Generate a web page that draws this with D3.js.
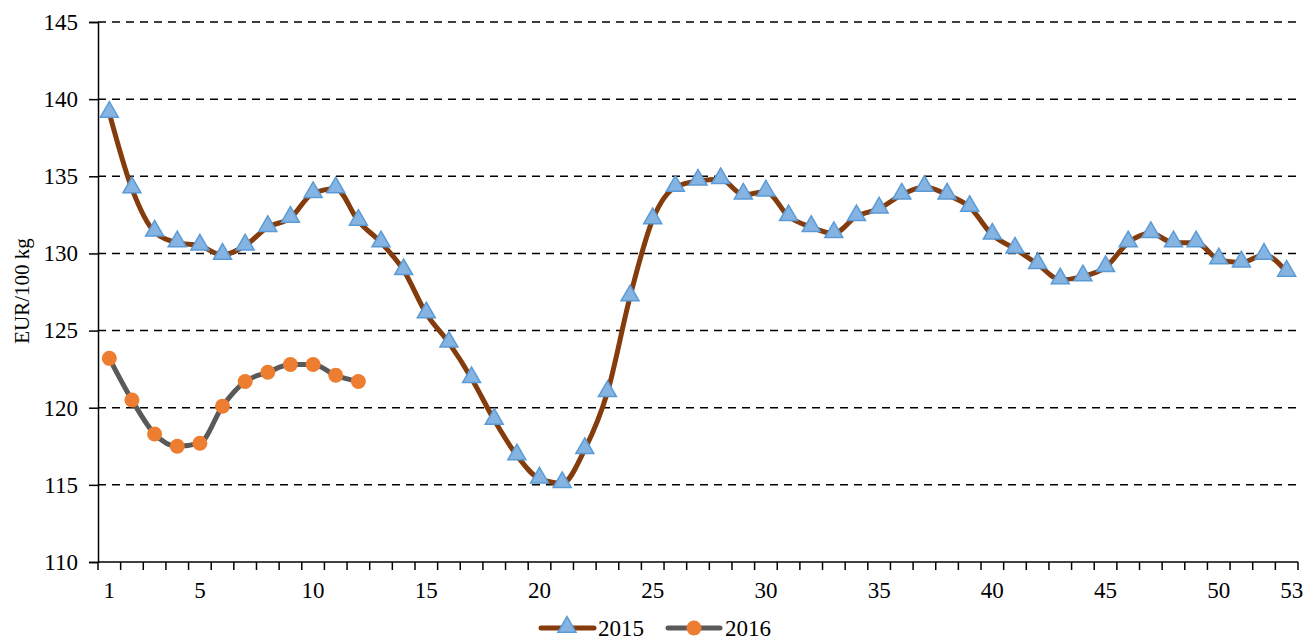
<!DOCTYPE html>
<html>
<head>
<meta charset="utf-8">
<script src="https://cdn.jsdelivr.net/npm/d3@7"></script>
<style>
  body { margin: 0; background: #fff; }
</style>
</head>
<body>
<svg id="chart" width="1309" height="641"></svg>
<script>
const weeks = d3.range(1, 54);
const xLabels = [1, 5, 10, 15, 20, 25, 30, 35, 40, 45, 50, 53];
const yTicks = [110, 115, 120, 125, 130, 135, 140, 145];
const prices2015 = [139.1, 134.2, 131.4, 130.7, 130.5, 129.9, 130.5, 131.7, 132.3, 133.9,
    134.2, 132.1, 130.7, 128.9, 126.1, 124.2, 121.9, 119.2, 116.9, 115.4,
    115.1, 117.3, 121.0, 127.2, 132.2, 134.3, 134.7, 134.8, 133.8, 134.0,
    132.4, 131.7, 131.3, 132.4, 132.9, 133.8, 134.3, 133.8, 133.0, 131.2,
    130.3, 129.3, 128.3, 128.5, 129.1, 130.7, 131.3, 130.7, 130.7, 129.6,
    129.4, 129.9, 128.8];
const prices2016 = [123.2, 120.5, 118.3, 117.5, 117.7, 120.1, 121.7, 122.3, 122.8, 122.8,
    122.1, 121.7];

const FONT = "'Liberation Serif', 'Times New Roman', serif";
const svg = d3.select("#chart");
const margin = { left: 98, right: 11, top: 22, bottom: 79 };
const width = 1309 - margin.left - margin.right;
const height = 641 - margin.top - margin.bottom;

const x = d3.scaleBand().domain(weeks).range([0, width]);
const y = d3.scaleLinear().domain([110, 145]).range([height, 0]);
const cx = w => x(w) + x.bandwidth() / 2;

const g = svg.append("g").attr("transform", `translate(${margin.left},${margin.top})`);

// dashed gridlines
g.selectAll(".grid")
    .data(yTicks.filter(d => d > 110))
    .join("line")
    .attr("class", "grid")
    .attr("x1", 0).attr("x2", width)
    .attr("y1", d => y(d)).attr("y2", d => y(d))
    .attr("stroke", "#000")
    .attr("stroke-width", 1.5)
    .attr("stroke-dasharray", "8,6");

// y axis
const yAxis = g.append("g")
    .call(d3.axisLeft(y).tickValues(yTicks).tickSize(9).tickPadding(11));
yAxis.select(".domain").attr("stroke-width", 1.5);
yAxis.selectAll(".tick line").attr("stroke-width", 1.5);
yAxis.selectAll("text")
    .attr("font-family", FONT)
    .attr("font-size", 23)
    .attr("fill", "#000");

// x axis: ticks between categories, labels at selected weeks
const xg = g.append("g").attr("transform", `translate(0,${height})`);
xg.append("line").attr("x1", 0).attr("x2", width).attr("stroke", "#000").attr("stroke-width", 1.5);
xg.selectAll(".xtick")
    .data(d3.range(0, 54))
    .join("line")
    .attr("class", "xtick")
    .attr("x1", d => d * x.step()).attr("x2", d => d * x.step())
    .attr("y1", 0).attr("y2", 8)
    .attr("stroke", "#000").attr("stroke-width", 1.5);
xg.selectAll(".xlabel")
    .data(xLabels)
    .join("text")
    .attr("class", "xlabel")
    .attr("x", d => d === 53 ? cx(d) + 5 : cx(d))
    .attr("y", 36)
    .attr("text-anchor", "middle")
    .attr("font-family", FONT)
    .attr("font-size", 23)
    .text(d => d);

// y axis title
svg.append("text")
    .attr("transform", "translate(29,291) rotate(-90)")
    .attr("text-anchor", "middle")
    .attr("font-family", FONT)
    .attr("font-size", 21)
    .text("EUR/100 kg");

const line = d3.line()
    .x((d, i) => cx(i + 1))
    .y(d => y(d))
    .curve(d3.curveMonotoneX);

const tri = d3.symbol().type(d3.symbolTriangle).size(140);

// 2016 series
g.append("path").datum(prices2016)
    .attr("d", line)
    .attr("fill", "none")
    .attr("stroke", "#595959")
    .attr("stroke-width", 5);
g.selectAll(".dot16")
    .data(prices2016)
    .join("circle")
    .attr("class", "dot16")
    .attr("cx", (d, i) => cx(i + 1))
    .attr("cy", d => y(d))
    .attr("r", 7.5)
    .attr("fill", "#ED7D31");

// 2015 series
g.append("path").datum(prices2015)
    .attr("d", line)
    .attr("fill", "none")
    .attr("stroke", "#843C0C")
    .attr("stroke-width", 5);
g.selectAll(".tri15")
    .data(prices2015)
    .join("path")
    .attr("class", "tri15")
    .attr("transform", (d, i) => `translate(${cx(i + 1)},${y(d) - 1})`)
    .attr("d", tri)
    .attr("fill", "#86B4E2")
    .attr("stroke", "#5B9BD5")
    .attr("stroke-width", 1.5);

// legend
const legend = svg.append("g").attr("transform", "translate(0,628)");
const l1 = legend.append("g");
l1.append("line").attr("x1", 541).attr("x2", 594).attr("stroke", "#843C0C").attr("stroke-width", 5).attr("stroke-linecap", "round");
l1.append("path").attr("d", tri).attr("transform", "translate(567,-1)")
    .attr("fill", "#86B4E2").attr("stroke", "#5B9BD5").attr("stroke-width", 1.5);
l1.append("text").attr("x", 598).attr("y", 8).attr("font-family", FONT).attr("font-size", 23).text("2015");
const l2 = legend.append("g");
l2.append("line").attr("x1", 668).attr("x2", 720).attr("stroke", "#595959").attr("stroke-width", 5).attr("stroke-linecap", "round");
l2.append("circle").attr("cx", 694).attr("cy", 0).attr("r", 7.5).attr("fill", "#ED7D31");
l2.append("text").attr("x", 725).attr("y", 8).attr("font-family", FONT).attr("font-size", 23).text("2016");
</script>
</body>
</html>
